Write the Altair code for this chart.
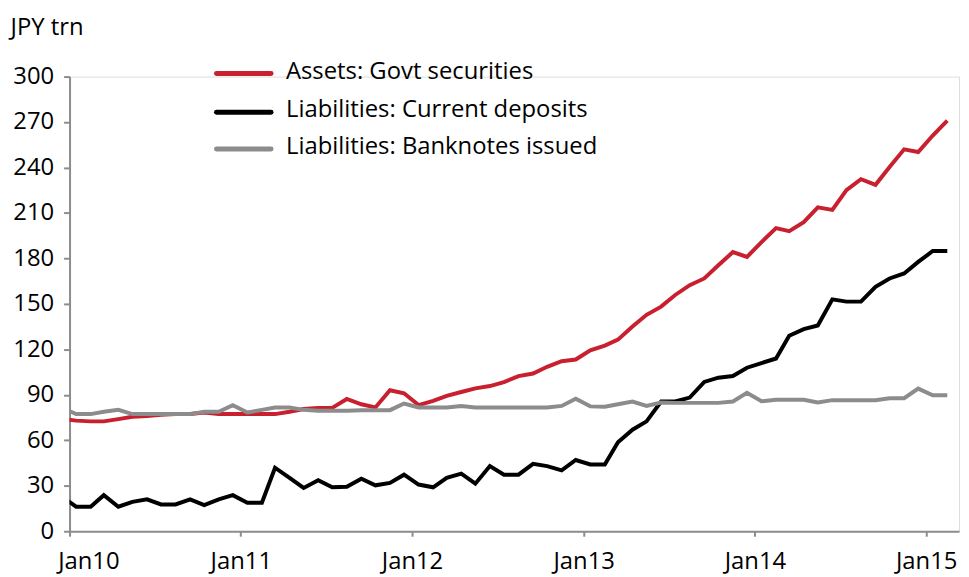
import altair as alt
import pandas as pd

# Monthly observations (mid-month), Dec 2009 .. Feb 2015 (first one is clipped by the axis start)
months = pd.date_range("2009-12-01", "2015-02-01", freq="MS") + pd.Timedelta(days=14)

govt_securities = [
    74.0,
    73.0, 72.5, 72.5, 74.0, 75.5, 76.0, 76.8, 77.3, 77.3, 78.4, 77.3, 77.3,
    77.3, 77.3, 77.3, 78.8, 80.6, 81.4, 81.4, 87.3, 83.8, 81.7, 93.0, 91.0,
    83.2, 86.0, 89.3, 91.9, 94.3, 95.8, 98.4, 102.4, 104.1, 108.5, 112.2, 113.3,
    119.4, 122.5, 126.4, 135.1, 142.8, 148.2, 155.9, 162.4, 166.8, 175.5, 184.2, 181.0,
    190.8, 200.0, 198.0, 203.9, 213.7, 212.0, 225.1, 232.3, 228.6, 240.4, 252.0, 250.2,
    261.1, 270.9,
]

current_deposits = [
    23.0,
    16.2, 16.2, 23.8, 16.2, 19.4, 21.0, 17.7, 17.7, 21.0, 17.2, 21.0, 23.8,
    18.8, 18.8, 41.9, 35.2, 28.6, 33.6, 29.0, 29.3, 34.7, 30.3, 31.9, 37.3,
    30.8, 29.0, 35.2, 38.0, 31.4, 43.0, 37.3, 37.3, 44.5, 43.0, 40.2, 47.0,
    44.1, 44.1, 58.7, 67.0, 72.5, 85.6, 85.6, 88.2, 98.5, 101.3, 102.4, 107.9,
    111.0, 114.0, 129.0, 133.4, 135.8, 153.0, 151.5, 151.5, 161.3, 166.8, 170.1, 177.7,
    184.9, 184.9,
]

banknotes = [
    81.6,
    77.3, 77.3, 78.8, 80.1, 77.3, 77.3, 77.3, 77.3, 77.3, 78.8, 78.8, 83.2,
    78.4, 80.1, 81.7, 81.7, 80.1, 79.5, 79.5, 79.5, 79.9, 79.9, 79.9, 84.3,
    81.7, 81.7, 81.7, 82.7, 81.7, 81.7, 81.7, 81.7, 81.7, 81.7, 82.7, 87.4,
    82.4, 82.1, 83.8, 85.6, 82.7, 84.9, 84.7, 84.7, 84.7, 84.7, 85.6, 91.3,
    85.8, 86.7, 86.7, 86.7, 84.9, 86.5, 86.5, 86.5, 86.5, 87.8, 87.8, 94.1,
    89.7, 89.7,
]

series_names = [
    "Assets: Govt securities",
    "Liabilities: Current deposits",
    "Liabilities: Banknotes issued",
]
series_colors = ["#c8202f", "#000000", "#8c8c8c"]
y_ticks = [0, 30, 60, 90, 120, 150, 180, 210, 240, 270, 300]
x_ticks = ["2010-01-01", "2011-01-01", "2012-01-01", "2013-01-01", "2014-01-01", "2015-01-01"]

frames = []
for name, vals in zip(series_names, [govt_securities, current_deposits, banknotes]):
    frames.append(pd.DataFrame({"date": months, "value": vals, "series": name}))
df = pd.concat(frames, ignore_index=True)

FONT = "Open Sans"
FS = 24

x_enc = alt.X(
    "date:T",
    scale=alt.Scale(domain=["2010-01-01", "2015-03-12"]),
    axis=alt.Axis(
        values=x_ticks,
        format="Jan%y",
        title=None,
        grid=False,
        domainColor="#8c8c8c",
        domainWidth=2,
        tickColor="#8c8c8c",
        tickWidth=2,
        tickSize=5,
        labelPadding=14,
        labelFontSize=FS,
        labelFont=FONT,
        labelColor="#000000",
        labelFlush=True,
        labelFlushOffset=12,
    ),
)
y_enc = alt.Y(
    "value:Q",
    scale=alt.Scale(domain=[0, 300], nice=False),
    axis=alt.Axis(
        values=y_ticks,
        title="JPY trn",
        titleAngle=0,
        titleAlign="left",
        titleBaseline="middle",
        titleX=-60,
        titleY=-49,
        titleFont=FONT,
        titleFontSize=FS,
        titleFontWeight="normal",
        titleColor="#000000",
        grid=False,
        domainColor="#8c8c8c",
        domainWidth=2,
        tickColor="#8c8c8c",
        tickWidth=2,
        tickSize=6,
        labelPadding=10,
        labelFontSize=FS,
        labelFont=FONT,
        labelColor="#000000",
    ),
)

lines = alt.Chart(df).mark_line(strokeWidth=4, clip=True).encode(
    x=x_enc,
    y=y_enc,
    color=alt.Color(
        "series:N",
        scale=alt.Scale(domain=series_names, range=series_colors),
        legend=None,
    ),
    detail="series:N",
)

layers = [lines]
legend_y = [-3, 36, 73]
for name, col, ly in zip(series_names, series_colors, legend_y):
    ldf = pd.DataFrame({"label": [name]})
    layers.append(
        alt.Chart(ldf).mark_rule(strokeWidth=5, strokeCap="round", color=col).encode(
            x=alt.value(148), x2=alt.value(203), y=alt.value(ly)
        )
    )
    layers.append(
        alt.Chart(ldf).mark_text(
            align="left", baseline="middle", font=FONT, fontSize=FS, color="#000000"
        ).encode(x=alt.value(218), y=alt.value(ly - 2), text="label:N")
    )

chart = alt.layer(*layers).properties(
    width=896,
    height=458,
    autosize="none",
    padding={"left": 62, "top": 67, "right": 2, "bottom": 43},
).configure_view(stroke=None).configure(background="white")

chart.save("out.html", embed_options={"renderer": "svg", "actions": False})
